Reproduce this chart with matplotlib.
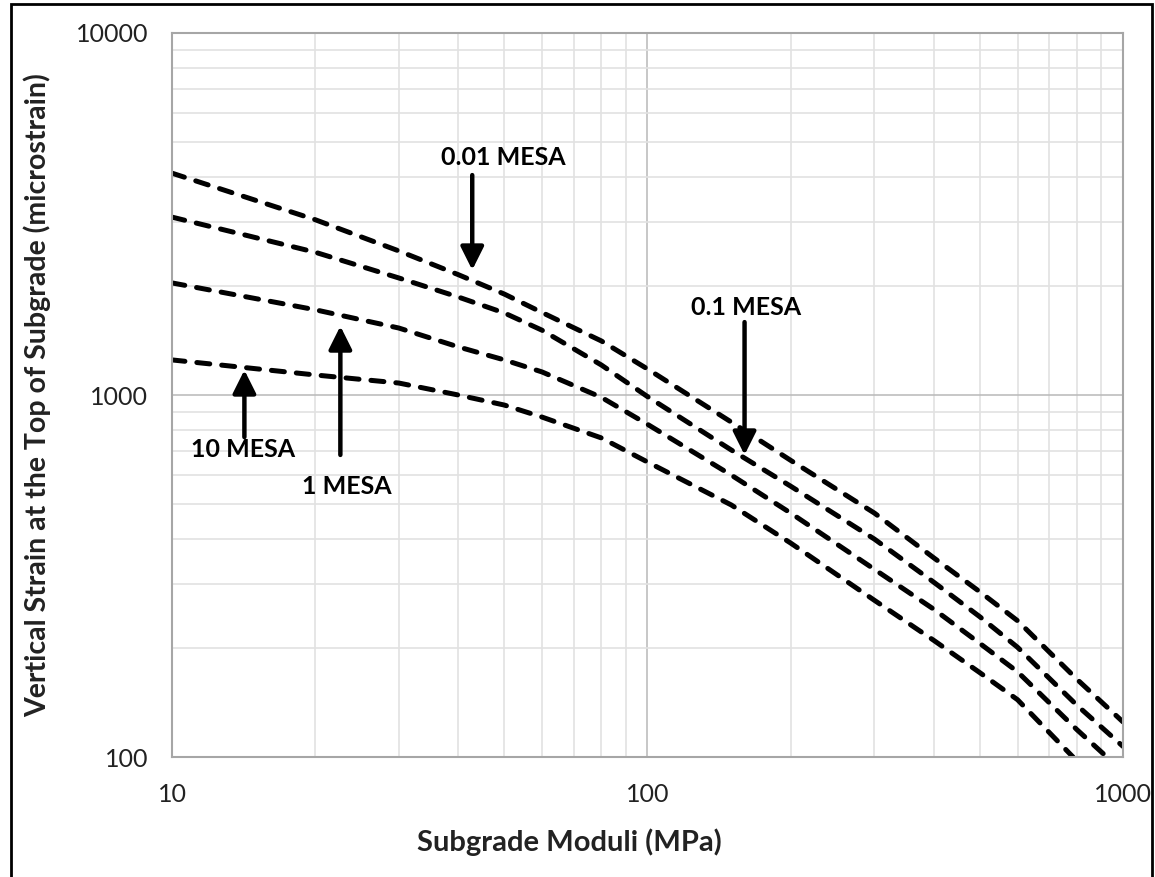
import matplotlib
matplotlib.use('Agg')
import matplotlib.pyplot as plt
import matplotlib.ticker as ticker
from matplotlib.patches import Rectangle

plt.rcParams['font.family'] = ['Lato', 'DejaVu Sans']

# Subgrade modulus (MPa)
moduli = [10, 20, 30, 40, 50, 60, 80, 100, 150, 200, 300, 400, 500, 600, 800, 1000]

# Vertical strain (microstrain) for each traffic level
strain_001 = [4100, 3050, 2500, 2150, 1900, 1690, 1410, 1180, 842, 660, 472, 355, 286, 238, 164, 125]
strain_01 = [3100, 2480, 2105, 1865, 1685, 1510, 1210, 990, 705, 560, 400, 304, 244, 201, 139, 107]
strain_1 = [2040, 1720, 1531, 1358, 1250, 1158, 985, 830, 601, 472, 330, 256, 206, 172, 119, 100]
strain_10 = [1250, 1136, 1079, 1000, 938, 869, 761, 653, 497, 390, 271, 210, 171, 144, 100]

moduli_1 = moduli[:14] + [800, 925]
moduli_10 = moduli[:14] + [785]

# annotation: label, label position, arrow tail, arrow tip
labels = ['0.01 MESA', '0.1 MESA', '1 MESA', '10 MESA']
label_pos = [(49.7, 4540), (161, 1750), (23.3, 560), (14.1, 705)]
arrow_tail = [(42.8, 4050), (160, 1590), (22.6, 683), (14.2, 765)]
arrow_tip = [(42.8, 2215), (160, 683), (22.6, 1550), (14.2, 1172)]

fig = plt.figure(figsize=(11.55, 8.77), dpi=100)
ax = fig.add_axes([0.1489, 0.1368, 0.9723 - 0.1489, 0.9624 - 0.1368])

line_kw = dict(color='black', lw=3.6, linestyle=(0, (2.6, 2.4)), dash_capstyle='round')
ax.plot(moduli, strain_001, **line_kw)
ax.plot(moduli, strain_01, **line_kw)
ax.plot(moduli_1, strain_1, **line_kw)
ax.plot(moduli_10, strain_10, **line_kw)

ax.set_xscale('log')
ax.set_yscale('log')
ax.set_xlim(10, 1000)
ax.set_ylim(100, 10000)

ax.xaxis.set_major_formatter(ticker.FuncFormatter(lambda v, p: f'{v:g}'))
ax.yaxis.set_major_formatter(ticker.FuncFormatter(lambda v, p: f'{v:g}'))
ax.xaxis.set_minor_formatter(ticker.NullFormatter())
ax.yaxis.set_minor_formatter(ticker.NullFormatter())
ax.tick_params(which='both', length=0, labelsize=18, colors='#222222')
ax.tick_params(axis='x', pad=19)
ax.tick_params(axis='y', pad=17)

ax.grid(which='major', color='#bdbdbd', lw=1.2)
ax.grid(which='minor', color='#e2e2e2', lw=1.2)
ax.set_axisbelow(True)
for s in ax.spines.values():
    s.set_color('#a6a6a6')
    s.set_linewidth(1.5)

ax.set_xlabel('Subgrade Moduli (MPa)', fontsize=21, fontweight='bold', labelpad=16,
              color='#222222', x=0.418)
ax.set_ylabel('Vertical Strain at the Top of Subgrade (microstrain)', fontsize=20.5,
              fontweight='bold', labelpad=18, color='#222222')

for lab, lp, tail, tip in zip(labels, label_pos, arrow_tail, arrow_tip):
    ax.text(lp[0], lp[1], lab, fontsize=18, fontweight='bold', ha='center', va='center')
    ax.annotate('', xy=tip, xytext=tail,
                arrowprops=dict(arrowstyle='-|>,head_width=0.35,head_length=0.7',
                                color='black', lw=3.2, shrinkA=0, shrinkB=0,
                                mutation_scale=20))

# outer frame
fig.patches.append(Rectangle((11 / 1155, -0.01), (1152 - 11) / 1155, 1.01 - 4 / 877,
                             transform=fig.transFigure, fill=False, ec='black', lw=2))

fig.savefig('out.png', dpi=100)
